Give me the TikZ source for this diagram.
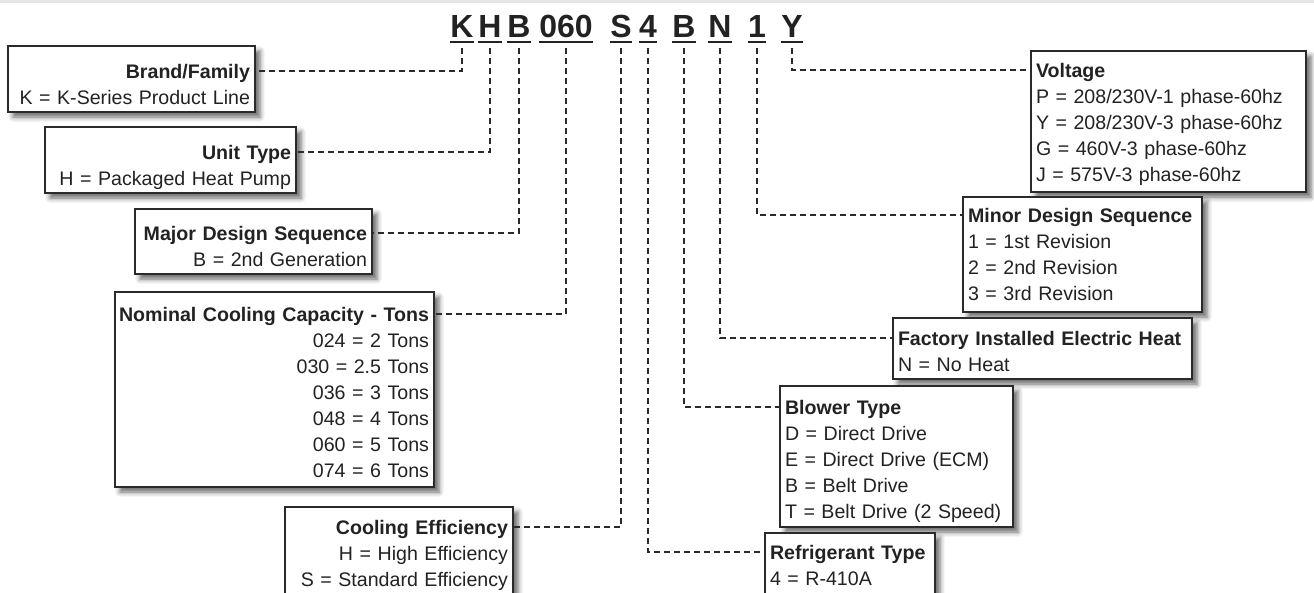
\documentclass[tikz,border=0pt]{standalone}
\usepackage{fontspec}
\setmainfont{Liberation Sans}
\usetikzlibrary{shadows.blur}
\definecolor{ink}{HTML}{222222}
\definecolor{lin}{HTML}{2A2A2A}
\definecolor{band}{HTML}{E6E6E8}
\newcommand{\topst}[1]{\rule{0pt}{#1pt}}
\newcommand{\botst}{\rule[-8pt]{0pt}{8pt}}
\begin{document}
\begin{tikzpicture}[x=1pt,y=-1pt,
 code/.style={font=\bfseries\fontsize{32}{32}\selectfont, text=ink, inner sep=0pt, anchor=base},
 uline/.style={line width=2.5pt, draw=ink},
 conn/.style={draw=lin, line width=2.4pt, dash pattern=on 6pt off 4pt},
 infobox/.style={draw=lin, line width=1.4pt, fill=white, text=ink, inner xsep=5pt, inner ysep=0pt,
   font=\fontsize{19.6}{26}\selectfont,
   blur shadow={shadow xshift=5pt, shadow yshift=-5pt, shadow opacity=60, shadow blur radius=5pt}},
 ]
\useasboundingbox (0,0) rectangle (1314,592);
\clip (0,0) rectangle (1314,592);
\fill[band] (0,0) rectangle (1314,3);

% code letters
\node[code] (cK) at (462,37) {K};
\node[code] (cH) at (490,37) {H};
\node[code] (cB) at (519,37) {B};
\node[code] (cT) at (566,37) {060};
\node[code] (cS) at (621,37) {S};
\node[code] (cF) at (648,37) {4};
\node[code] (cB2) at (684,37) {B};
\node[code] (cN) at (720,37) {N};
\node[code] (cO) at (757,37) {1};
\node[code] (cY) at (792,37) {Y};
\foreach \n in {cK,cH,cB,cT,cS,cF,cB2,cN,cO,cY}{
  \draw[uline] ([yshift=-5pt]\n.base west) -- ([yshift=-5pt]\n.base east);
  \coordinate (t\n) at ([yshift=-11pt]\n.base);
}

% left boxes
\node[infobox, minimum width=247, minimum height=62, text width=237, align=right] (brand) at (131.5,79)
  {\topst{32}\textbf{Brand/Family}\\K = K-Series Product Line\botst};
\node[infobox, minimum width=251, minimum height=62, text width=241, align=right] (unit) at (170.5,160)
  {\topst{32}\textbf{Unit Type}\\H = Packaged Heat Pump\botst};
\node[infobox, minimum width=237, minimum height=61, text width=227, align=right] (major) at (253.5,241.5)
  {\topst{31}\textbf{Major Design Sequence}\\B = 2nd Generation\botst};
\node[infobox, minimum width=319, minimum height=195, text width=309, align=right] (nominal) at (274.5,389.5)
  {\hbox to\hsize{\hss\topst{27}\textbf{Nominal Cooling Capacity - Tons}}\\024 = 2 Tons\\030 = 2.5 Tons\\036 = 3 Tons\\048 = 4 Tons\\060 = 5 Tons\\074 = 6 Tons\botst};
\node[infobox, minimum width=228, minimum height=93, text width=218, align=right] (cooleff) at (399,553.5)
  {\topst{21}\textbf{Cooling Efficiency}\\H = High Efficiency\\S = Standard Efficiency\botst};

% right boxes
\node[infobox, minimum width=275, minimum height=141, text width=265, align=left] (voltage) at (1168.5,121.5)
  {\topst{23}\textbf{Voltage}\\P = 208/230V-1 phase-60hz\\Y = 208/230V-3 phase-60hz\\G = 460V-3 phase-60hz\\J = 575V-3 phase-60hz\botst};
\node[infobox, minimum width=239, minimum height=115, text width=229, align=left] (minor) at (1082.5,254.5)
  {\topst{21}\textbf{Minor Design Sequence}\\1 = 1st Revision\\2 = 2nd Revision\\3 = 3rd Revision\botst};
\node[infobox, minimum width=299, minimum height=61, text width=289, align=left] (factory) at (1042.5,348.5)
  {\topst{27}\textbf{Factory Installed Electric Heat}\\N = No Heat\botst};
\node[infobox, minimum width=233, minimum height=141, text width=223, align=left] (blower) at (896.5,456.5)
  {\topst{27}\textbf{Blower Type}\\D = Direct Drive\\E = Direct Drive (ECM)\\B = Belt Drive\\T = Belt Drive (2 Speed)\botst};
\node[infobox, minimum width=170, minimum height=64, text width=160, align=left] (refrig) at (850,565)
  {\topst{22}\textbf{Refrigerant Type}\\4 = R-410A\botst};

% connectors
\draw[conn] (tcK) |- (brand.east |- 0,71);
\draw[conn] (tcH) |- (unit.east |- 0,152);
\draw[conn] (tcB) |- (major.east |- 0,233);
\draw[conn] (tcT) |- (nominal.east |- 0,314);
\draw[conn] (tcS) |- (cooleff.east |- 0,527);
\draw[conn] (tcF) |- (refrig.west |- 0,552);
\draw[conn] (tcB2) |- (blower.west |- 0,407);
\draw[conn] (tcN) |- (factory.west |- 0,338);
\draw[conn] (tcO) |- (minor.west |- 0,215);
\draw[conn] (tcY) |- (voltage.west |- 0,70);
\end{tikzpicture}
\end{document}
